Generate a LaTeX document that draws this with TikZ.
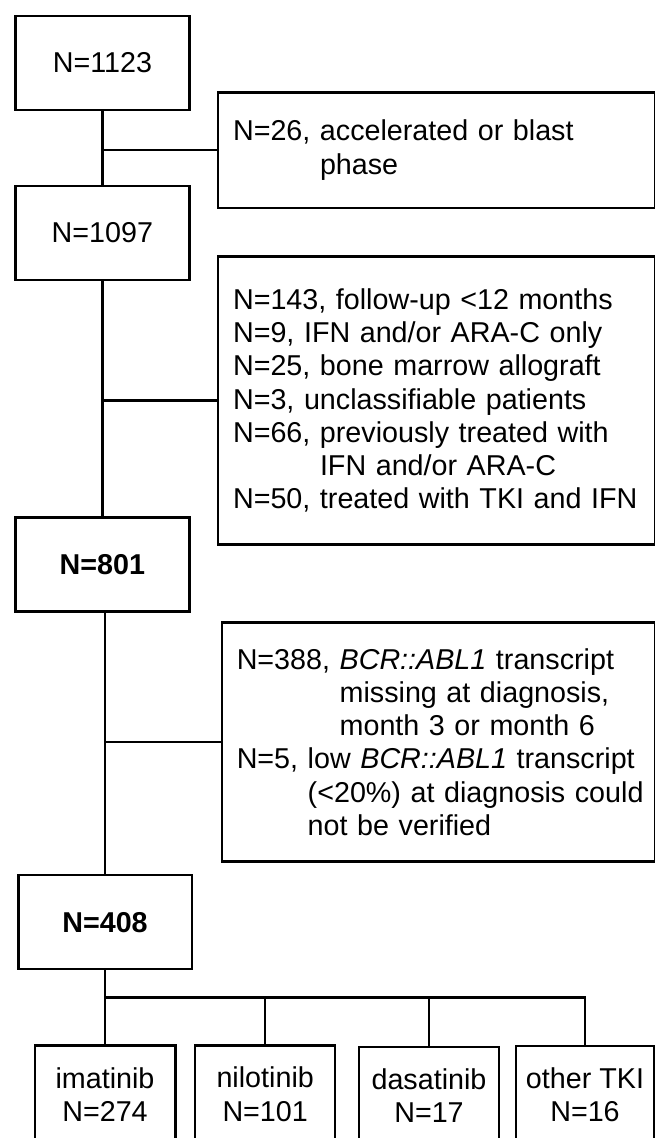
\documentclass[tikz,border=0pt]{standalone}
\usepackage{fontspec}
\setmainfont{Liberation Sans}
\usepackage{tikz}

\begin{document}
\begin{tikzpicture}[x=1pt, y=-1pt, line width=2.5pt,
    box/.style={draw, inner sep=0pt, font=\fontsize{28.7pt}{33.3pt}\selectfont},
    countbox/.style={box, minimum width=174pt, minimum height=94pt},
    exclbox/.style={box, anchor=west, inner xsep=15pt, align=left},
    drugbox/.style={box, anchor=north, minimum width=140pt, minimum height=98pt, align=center}]
  \useasboundingbox (0,0) rectangle (655,1138);
  \node [countbox] (n1123) at (102.4,63) {N=1123};
  \node [countbox] (n1097) at (102.4,233) {N=1097};
  \node [countbox] (n801) at (102.4,564.7) {\textbf{N=801}};
  \node [countbox, minimum width=173.5pt] (n408) at (105,922.2) {\textbf{N=408}};
  \node [exclbox, text width=407pt, minimum height=115.7pt] (ex26) at (216.8,150.2)
    {N=26, accelerated or blast\\ \hphantom{N=26, }phase};
  \node [exclbox, text width=407pt, minimum height=287.6pt] (ex296) at (216.8,400.5)
    {N=143, follow-up <12 months\\
     N=9, IFN and/or ARA-C only\\
     N=25, bone marrow allograft\\
     N=3, unclassifiable patients\\
     N=66, previously treated with\\
     \hphantom{N=66, }IFN and/or ARA-C\\
     N=50, treated with TKI and IFN};
  \node [exclbox, text width=403.5pt, minimum height=239.4pt] (ex393) at (220.5,742)
    {N=388, \textit{BCR::ABL1} transcript\\
     \hphantom{N=388, }missing at diagnosis,\\
     \hphantom{N=388, }month 3 or month 6\\
     N=5, low \textit{BCR::ABL1} transcript\\
     \mbox{\hphantom{N=5, }(<20\%) at diagnosis could}\\
     \hphantom{N=5, }not be verified};
  \node [drugbox, minimum width=140.5pt] (ima) at (105,1044) {imatinib\\N=274};
  \node [drugbox] (nilo) at (265.2,1044) {nilotinib\\N=101};
  \node [drugbox] (dasa) at (429,1045.5) {dasatinib\\N=17};
  \node [drugbox, minimum width=138pt] (other) at (585,1044.5) {other TKI\\N=16};
  \coordinate (split) at (105,997.3);
  \draw (n1123) -- (n1097);
  \draw (ex26.west) -- (ex26.west -| n1123.south);
  \draw (n1097) -- (n801);
  \draw (ex296.west) -- (ex296.west -| n1097.south);
  \draw (n408.north) -- (n408.north |- n801.south);
  \draw (ex393.west) -- (ex393.west -| n408.north);
  \draw (n408.south) -- (split) -| (other.north);
  \draw (split) -- (ima.north);
  \foreach \drug in {nilo,dasa}
    \draw (split -| \drug.north) -- (\drug.north);
\end{tikzpicture}
\end{document}
